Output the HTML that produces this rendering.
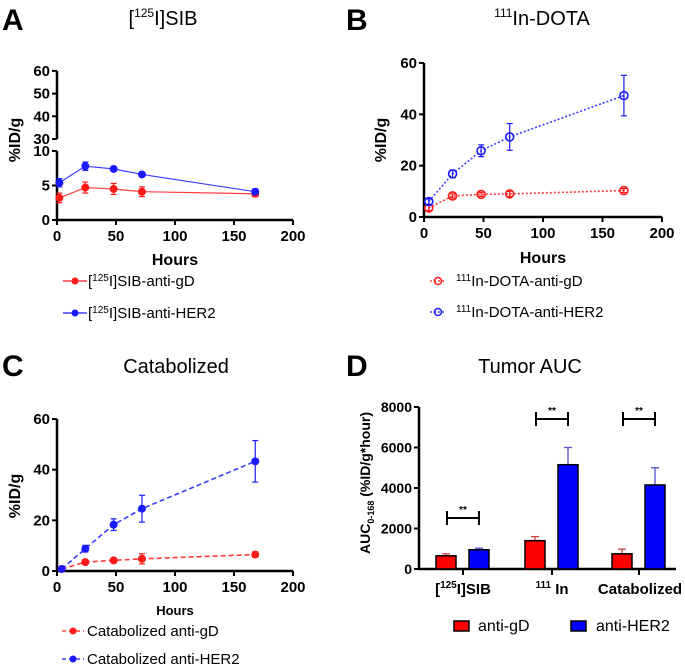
<!DOCTYPE html>
<html><head><meta charset="utf-8"><style>
html,body{margin:0;padding:0;background:#fff;}
svg{display:block;font-family:"Liberation Sans",Arial,sans-serif;}
.tk{font-weight:bold;font-size:15px;}
.ttl{font-size:20px;}
.lt{font-weight:bold;font-size:30px;}
</style></head><body>
<svg id="s" width="685" height="666" viewBox="0 0 685 666">
<text class="lt" x="2" y="30">A</text>
<text class="lt" x="346" y="30">B</text>
<text class="lt" x="2" y="376">C</text>
<text class="lt" x="346" y="376">D</text>
<text class="ttl" x="163" y="25" text-anchor="middle">[<tspan font-size="12" dy="-8">125</tspan><tspan dy="8">I]SIB</tspan></text>
<text class="ttl" x="542" y="25" text-anchor="middle"><tspan font-size="12" dy="-8">111</tspan><tspan dy="8">In-DOTA</tspan></text>
<text class="ttl" x="176" y="373" text-anchor="middle">Catabolized</text>
<text class="ttl" x="530" y="373" text-anchor="middle">Tumor AUC</text>
<g id="g"></g>
</svg>
<script>
// Panel A data
const tA=[2,24,48,72,168];
const aGd=[3.2,4.7,4.5,4.1,3.8], aGdE=[0.7,0.8,0.8,0.7,0.4];
const aHer=[5.4,7.8,7.4,6.6,4.1], aHerE=[0.6,0.6,0.3,0.3,0.4];
// Panel B data
const tB=[4,24,48,72,168];
const bGd=[3.5,8.2,8.8,9.0,10.3], bGdE=[1.0,0.8,0.8,1.0,0.8];
const bHer=[6.0,16.8,25.8,31.2,47.3], bHerE=[1.0,1.5,2.3,5.2,7.9];
// Panel C data
const tC=[4,24,48,72,168];
const cGd=[0.8,3.5,4.2,4.8,6.5], cGdE=[0.3,0.8,0.5,2.0,1.0];
const cHer=[0.8,8.8,18.3,24.6,43.3], cHerE=[0.3,1.3,2.3,5.3,8.2];
// Panel D data
const dGroups=["SIB","In","Catabolized"];
const dGd=[650,1400,750], dGdE=[100,200,230];
const dHer=[950,5150,4150], dHerE=[80,850,850];
const xTicks=[0,50,100,150,200];
const yTicks=[0,20,40,60];
const dTicks=[0,2000,4000,6000,8000];

const NS="http://www.w3.org/2000/svg";
const G=document.getElementById('g');
function mk(tag,at,parent,txt){const e=document.createElementNS(NS,tag);for(const k in at)e.setAttribute(k,at[k]);if(txt!==undefined)e.textContent=txt;(parent||G).appendChild(e);return e;}
function line(x1,y1,x2,y2,st,w,dash){const e=mk('line',{x1,y1,x2,y2,stroke:st,'stroke-width':w||1});if(dash)e.setAttribute('stroke-dasharray',dash);return e;}

function xAxis(x0,x1,y,sx,hoursY,hoursSize){
  const ax=line(x0,y,x1,y,'#000',2.5);
  
  
  xTicks.forEach(v=>{line(sx(v),y,sx(v),y+5,'#000',2);
    const t=mk('text',{x:sx(v),y:y+21,'text-anchor':'middle',class:'tk'},G,v);
    
    });
  const h=mk('text',{x:(x0+x1)/2,y:hoursY,'text-anchor':'middle','font-weight':'bold','font-size':hoursSize},G,'Hours');
  
  
}
function yTitle(x,y,txt){const t=mk('text',{x:0,y:0,transform:`translate(${x},${y}) rotate(-90)`,'text-anchor':'middle','font-weight':'bold','font-size':16},G,txt);
  
  return t;}
function series(ts,vs,es,sx,sy,col,dash,open,name){
  const pts=ts.map((t,i)=>sx(t)+','+sy(vs[i])).join(' ');
  const p=mk('polyline',{points:pts,fill:'none',stroke:col,'stroke-width':dash?1.6:1.2,opacity:0.85});
  if(dash)p.setAttribute('stroke-dasharray',dash);
  
  
  ts.forEach((t,i)=>{const x=sx(t),yt=sy(vs[i]+es[i]),yb=sy(vs[i]-es[i]);
    line(x,yt,x,yb,col,1.2);line(x-3,yt,x+3,yt,col,1.2);line(x-3,yb,x+3,yb,col,1.2);
    const c=mk('circle',{cx:x,cy:sy(vs[i]),r:4,fill:open?'none':col,stroke:col,'stroke-width':open?1.6:0});
    
    });
}
function legend(x1,x2,y,col,dash,open,tx,html,name){
  line(x1,y,x2,y,col,1.3,dash);
  mk('circle',{cx:(x1+x2)/2,cy:y,r:3.5,fill:open?'none':col,stroke:col,'stroke-width':open?1.5:0});
  const g=mk('g',{});g.innerHTML=`<text x="${tx}" y="${y+5}" font-size="15">${html}</text>`;
  
  
}

// ---- Panel A (broken axis)
{
  const sx=v=>57+v*1.18;
  const syL=v=>220-v*6.9;
  const syU=v=>139-(v-30)*2.27;
  xAxis(57,293,220,sx,265,16);
  const a1=line(57,151,57,221,'#000',2.5);
  
  
  const a2=line(57,71,57,139,'#000',2.5);
  
  
  [0,5,10].forEach(v=>{line(52,syL(v),57,syL(v),'#000',2);mk('text',{x:50,y:syL(v)+5,'text-anchor':'end',class:'tk'},G,v);});
  [30,40,50,60].forEach(v=>{line(52,syU(v),57,syU(v),'#000',2);mk('text',{x:50,y:syU(v)+5,'text-anchor':'end',class:'tk'},G,v);});
  yTitle(20,140,'%ID/g');
  series(tA,aGd,aGdE,sx,syL,'#ff1a1a',null,false,'a-anti-gd');
  series(tA,aHer,aHerE,sx,syL,'#1a1aff',null,false,'a-anti-her2');
  legend(63,87,281,'#ff1a1a',null,false,88,'[<tspan font-size="10" dy="-5">125</tspan><tspan dy="5">I]SIB-anti-gD</tspan>','legend-a-anti-gd');
  legend(63,87,313,'#1a1aff',null,false,88,'[<tspan font-size="10" dy="-5">125</tspan><tspan dy="5">I]SIB-anti-HER2</tspan>','legend-a-anti-her2');
}
// ---- Panel B
{
  const sx=v=>424+v*1.19;
  const sy=v=>217-v*2.567;
  xAxis(424,662,217,sx,263,16);
  const a=line(424,63,424,218,'#000',2.5);
  
  
  yTicks.forEach(v=>{line(419,sy(v),424,sy(v),'#000',2);mk('text',{x:417,y:sy(v)+5,'text-anchor':'end',class:'tk'},G,v);});
  yTitle(386,140,'%ID/g');
  series(tB,bGd,bGdE,sx,sy,'#ff1a1a','2,2',true,'b-anti-gd');
  series(tB,bHer,bHerE,sx,sy,'#1a1aff','2,2',true,'b-anti-her2');
  legend(430,446,281,'#ff1a1a','2,2',true,456,'<tspan font-size="10" dy="-5">111</tspan><tspan dy="5">In-DOTA-anti-gD</tspan>','legend-b-anti-gd');
  legend(430,446,312,'#1a1aff','2,2',true,456,'<tspan font-size="10" dy="-5">111</tspan><tspan dy="5">In-DOTA-anti-HER2</tspan>','legend-b-anti-her2');
}
// ---- Panel C
{
  const sx=v=>57+v*1.18;
  const sy=v=>571-v*2.533;
  xAxis(57,293,571,sx,615,13);
  const a=line(57,419,57,572,'#000',2.5);
  
  
  yTicks.forEach(v=>{line(52,sy(v),57,sy(v),'#000',2);mk('text',{x:50,y:sy(v)+5,'text-anchor':'end',class:'tk'},G,v);});
  yTitle(20,496,'%ID/g');
  series(tC,cGd,cGdE,sx,sy,'#ff1a1a','5,3',false,'c-anti-gd');
  series(tC,cHer,cHerE,sx,sy,'#1a1aff','5,3',false,'c-anti-her2');
  legend(62,84,631,'#ff1a1a','4,3',false,87,'Catabolized anti-gD','legend-c-anti-gd');
  legend(62,84,659,'#1a1aff','4,3',false,87,'Catabolized anti-HER2','legend-c-anti-her2');
}
// ---- Panel D
{
  const sy=v=>569-v*0.02025;
  const gc=[463,552,639];
  const a=line(419,407,419,570,'#000',2.5);
  
  
  const xa=line(418,569,676,569,'#000',2.5);
  
  
  dTicks.forEach(v=>{line(414,sy(v),419,sy(v),'#000',2);mk('text',{x:412,y:sy(v)+5,'text-anchor':'end',class:'tk','font-size':14,style:'font-size:14px'},G,v);});
  gc.forEach(x=>line(x,569,x,575,'#000',2));
  const lab=mk('g',{});
  lab.innerHTML=`<text x="463" y="594" text-anchor="middle" class="tk">[<tspan font-size="10" dy="-6">125</tspan><tspan dy="6">I]SIB</tspan></text>
  <text x="552" y="594" text-anchor="middle" class="tk"><tspan font-size="10" dy="-6">111</tspan><tspan dy="6"> In</tspan></text>
  <text x="640" y="594" text-anchor="middle" class="tk">Catabolized</text>`;
  
  
  const t=mk('text',{x:0,y:0,transform:'translate(370,483) rotate(-90)','text-anchor':'middle','font-weight':'bold','font-size':14});
  t.innerHTML='AUC<tspan font-size="9" dy="4">0-168</tspan><tspan dy="-4"> (%ID/g*hour)</tspan>';
  
  
  function bar(x,v,e,col,name){
    const top=sy(v);
    const ec=col==='#ff0000'?'#d04040':'#5050d0';
    line(x+10,sy(v+e),x+10,top,ec,1.3);
    line(x+6,sy(v+e),x+14,sy(v+e),ec,1.3);
    const r=mk('rect',{x:x,y:top,width:20,height:569-top,fill:col,stroke:'#000','stroke-width':1.5});
    
    
  }
  dGroups.forEach((g,i)=>{
    bar(gc[i]-27,dGd[i],dGdE[i],'#ff0000','bar-anti-gd-'+i);
    bar(gc[i]+6,dHer[i],dHerE[i],'#0000ff','bar-anti-her2-'+i);
    const by=i===0?518:419, bx=gc[i]-16;
    line(bx,by,bx+32,by,'#000',2);line(bx,by-7,bx,by+7,'#000',2);line(bx+32,by-7,bx+32,by+7,'#000',2);
    const s=mk('text',{x:bx+16,y:by-5,'text-anchor':'middle','font-size':10,'font-weight':'bold'},G,'**');
    
    
  });
  const lg=mk('g',{});
  lg.innerHTML=`<rect x="454" y="621" width="15" height="10" fill="#ff0000" stroke="#000" stroke-width="1.5"/><text x="478" y="631" font-size="16">anti-gD</text>
  <rect x="571" y="621" width="15" height="10" fill="#0000ff" stroke="#000" stroke-width="1.5"/><text x="596" y="631" font-size="16">anti-HER2</text>`;
  
  
}
</script>
</body></html>
